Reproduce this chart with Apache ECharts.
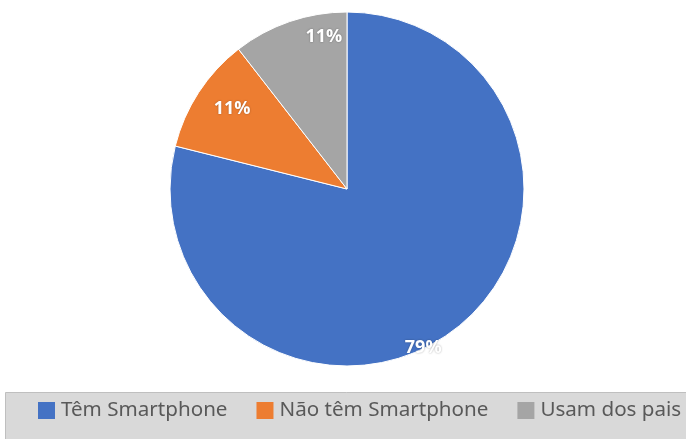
<!DOCTYPE html>
<html>
<head>
<meta charset="utf-8">
<script src="https://cdn.jsdelivr.net/npm/echarts@6/dist/echarts.min.js"></script>
<style>
  html, body { margin: 0; padding: 0; background: #ffffff; }
  #chart { width: 686px; height: 439px; }
</style>
</head>
<body>
<div id="chart"></div>
<script>
const categories = ["Têm Smartphone", "Não têm Smartphone", "Usam dos pais"];
const shares = [78.9, 10.6, 10.5];

const colors = {
  blue: "#4472c4",
  orange: "#ed7d31",
  gray: "#a5a5a5",
  text: "#595959",
};

// nudge the labels toward the outer edge, like Excel's "inside end"
const labelNudge = [[-17, 39], [12, 3], [26, -9]];

const chart = echarts.init(document.getElementById("chart"), null, { renderer: "canvas" });

const pieData = categories.map((name, i) => ({ name, value: shares[i] }));
const labelData = categories.map((name, i) => ({
  name,
  value: shares[i],
  label: { offset: labelNudge[i] },
}));

const options = {
  animation: false,
  color: [colors.blue, colors.orange, colors.gray],
  graphic: [
    {
      type: "rect",
      z: -1,
      shape: { x: 5.5, y: 392.5, width: 700, height: 60 },
      style: { fill: "#d9d9d9", stroke: "#bfbfbf", lineWidth: 1 },
    },
  ],
  legend: {
    left: 38,
    top: 400,
    width: 1000,
    padding: 0,
    icon: "rect",
    itemWidth: 17,
    itemHeight: 17,
    itemGap: 29,
    itemStyle: { borderWidth: 0 },
    textStyle: {
      color: colors.text,
      fontFamily: "Noto Sans",
      fontSize: 20.6,
      lineHeight: 17,
      padding: [0, 0, 0, 1],
    },
    data: categories,
  },
  series: [
    {
      type: "pie",
      center: [347, 189],
      radius: [0, 177],
      startAngle: 90,
      clockwise: true,
      silent: true,
      itemStyle: { borderColor: "#ffffff", borderWidth: 1 },
      label: { show: false },
      labelLine: { show: false },
      data: pieData,
    },
    {
      // transparent ring only used to carry the percentage labels
      type: "pie",
      center: [347, 189],
      radius: [120, 177],
      startAngle: 90,
      clockwise: true,
      silent: true,
      legendHoverLink: false,
      itemStyle: { color: "transparent", borderWidth: 0 },
      label: {
        show: true,
        position: "inside",
        color: "#ffffff",
        fontFamily: "Open Sans",
        fontWeight: "bold",
        fontSize: 18,
        textShadowColor: "rgba(0,0,0,0.35)",
        textShadowBlur: 2,
        formatter: (p) => Math.round(p.percent) + "%",
      },
      labelLine: { show: false },
      data: labelData,
    },
  ],
};

chart.setOption(options);
</script>
</body>
</html>
